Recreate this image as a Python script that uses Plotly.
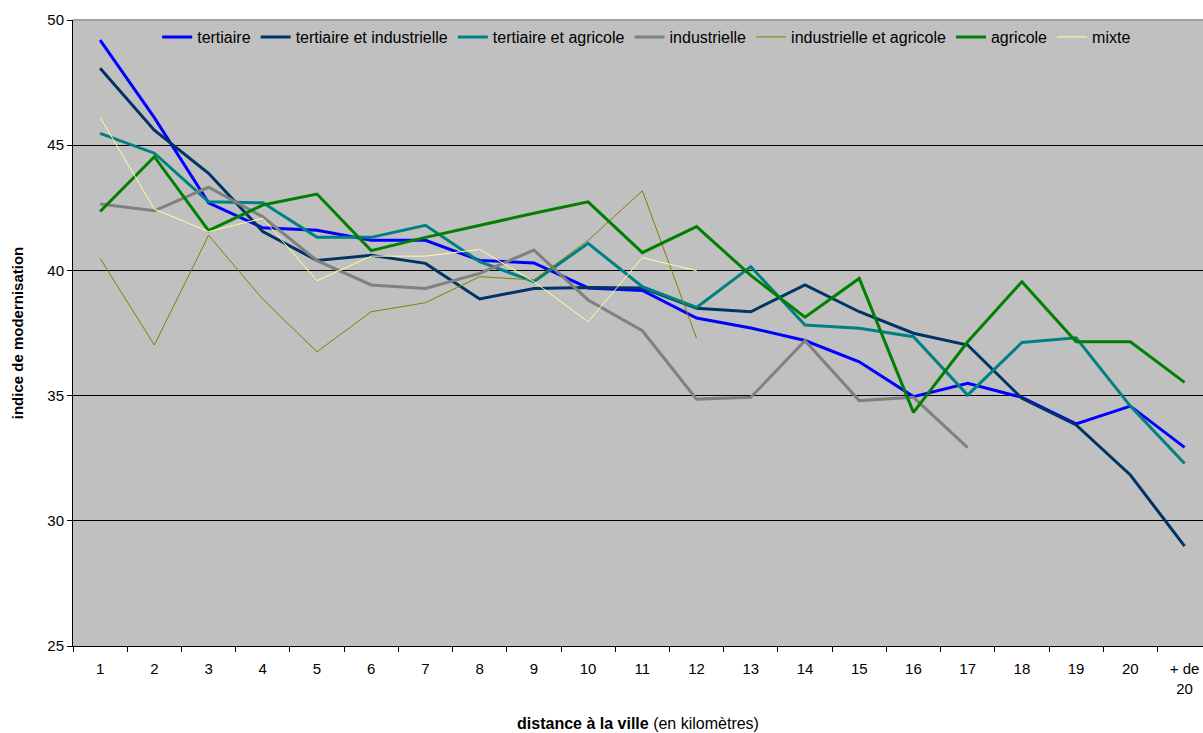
import plotly.graph_objects as go

categories = [str(i) for i in range(1, 21)] + ["+ de<br>20"]

tertiaire = [49.2, 46.1, 42.7, 41.7, 41.6, 41.2, 41.2, 40.4, 40.3, 39.3, 39.2, 38.1, 37.7, 37.2, 36.35, 34.96, 35.49, 34.93, 33.87, 34.58, 32.93]
tertiaire_industrielle = [48.07, 45.6, 43.88, 41.55, 40.4, 40.6, 40.28, 38.86, 39.28, 39.32, 39.3, 38.49, 38.35, 39.42, 38.35, 37.49, 37.02, 34.89, 33.83, 31.83, 28.99]
tertiaire_agricole = [45.47, 44.68, 42.74, 42.7, 41.32, 41.32, 41.8, 40.35, 39.55, 41.08, 39.35, 38.52, 40.15, 37.82, 37.69, 37.35, 35.02, 37.12, 37.31, 34.58, 32.29]
industrielle = [42.65, 42.38, 43.32, 42.14, 40.39, 39.42, 39.28, 39.88, 40.81, 38.82, 37.59, 34.86, 34.93, 37.19, 34.8, 34.93, 32.92]
industrielle_agricole = [40.48, 37.02, 41.4, 38.85, 36.75, 38.35, 38.71, 39.75, 39.62, 41.2, 43.18, 37.29]
agricole = [42.35, 44.54, 41.59, 42.61, 43.05, 40.79, 41.32, 41.81, 42.28, 42.74, 40.71, 41.75, 39.8, 38.13, 39.68, 34.33, 37.15, 39.55, 37.15, 37.15, 35.53]
mixte = [46.11, 42.45, 41.55, 42.08, 39.59, 40.57, 40.57, 40.84, 39.55, 37.95, 40.51, 39.99]

series = [
    ("tertiaire", tertiaire, "#0000FF", 3),
    ("tertiaire et industrielle", tertiaire_industrielle, "#003366", 3),
    ("tertiaire et agricole", tertiaire_agricole, "#008080", 3),
    ("industrielle", industrielle, "#808080", 3),
    ("industrielle et agricole", industrielle_agricole, "#808000", 1),
    ("agricole", agricole, "#008000", 3),
    ("mixte", mixte, "#FFFF99", 1),
]

fig = go.Figure()
for name, vals, color, w in series:
    fig.add_trace(go.Scatter(
        x=categories[:len(vals)], y=vals, name=name, mode="lines",
        line=dict(color=color, width=w),
    ))

font_family = "Liberation Sans, Arial, sans-serif"

fig.update_layout(
    width=1203, height=733,
    margin=dict(l=73, r=0, t=20, b=87),
    paper_bgcolor="white",
    plot_bgcolor="#C0C0C0",
    font=dict(family=font_family, size=14, color="#000000"),
    showlegend=True,
    legend=dict(
        orientation="h", x=0.0745, y=1.0, xanchor="left", yanchor="top",
        bgcolor="rgba(0,0,0,0)", font=dict(size=16, color="#000000"),
        itemwidth=30, tracegroupgap=0,
    ),
    xaxis=dict(
        type="category", categoryorder="array", categoryarray=categories,
        range=[-0.5, 20.34], autorange=False,
        showgrid=False, showline=True, linecolor="#000000", linewidth=1,
        ticks="outside", tickson="boundaries", ticklen=5, tickcolor="#000000",
        tickfont=dict(size=15, color="#000000"), ticklabelstandoff=9,
        title=dict(text="<b>distance à la ville</b> (en kilomètres)", font=dict(size=16), standoff=22),
        zeroline=False,
    ),
    yaxis=dict(
        range=[25, 50], autorange=False, dtick=5, tick0=25,
        showgrid=True, gridcolor="#000000", gridwidth=1,
        showline=True, linecolor="#000000", linewidth=1,
        ticks="outside", ticklen=5, tickcolor="#000000",
        tickfont=dict(size=15, color="#000000"),
        title=dict(text="<b>indice de modernisation</b>", font=dict(size=15), standoff=20),
        zeroline=False,
    ),
)

fig.add_shape(type="line", xref="paper", yref="paper", x0=0, x1=1, y0=1, y1=1,
              line=dict(color="#A0A0A0", width=2))

fig.write_html(
    "out.html",
    config={"displayModeBar": False},
    post_script="document.body.style.margin='0';document.body.style.overflow='hidden';"
                "document.documentElement.style.overflow='hidden';",
)
